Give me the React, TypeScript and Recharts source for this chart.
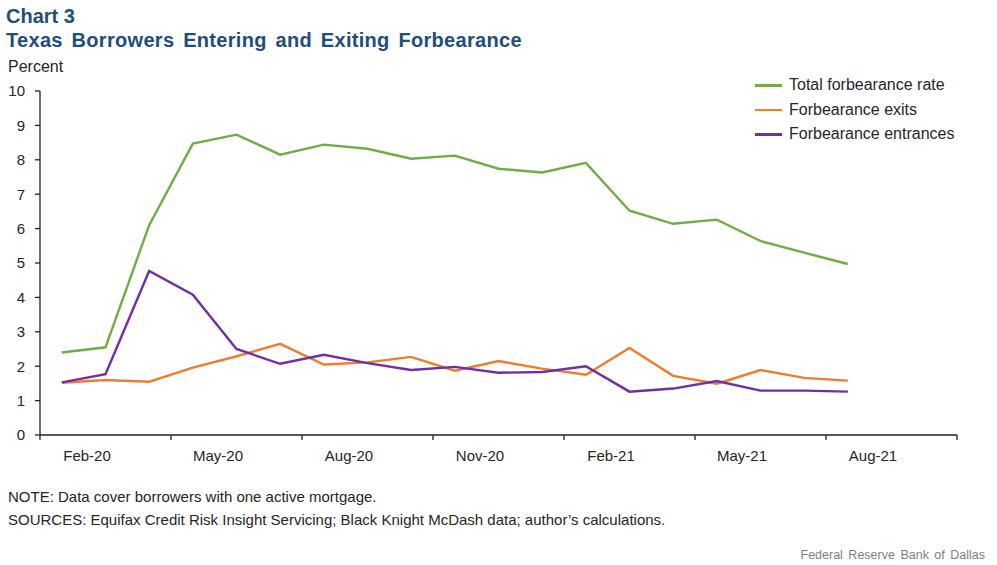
import { Legend, Line, LineChart, XAxis, YAxis } from "recharts";

const months = [
  "Feb-20", "Mar-20", "Apr-20", "May-20", "Jun-20", "Jul-20", "Aug-20", "Sep-20", "Oct-20",
  "Nov-20", "Dec-20", "Jan-21", "Feb-21", "Mar-21", "Apr-21", "May-21", "Jun-21", "Jul-21", "Aug-21",
];
const totalRate = [2.4, 2.55, 6.1, 8.47, 8.73, 8.15, 8.44, 8.32, 8.03, 8.12, 7.74, 7.63, 7.91, 6.52, 6.14, 6.26, 5.64, 5.3, 4.97];
const exits = [1.52, 1.6, 1.55, 1.96, 2.29, 2.65, 2.05, 2.11, 2.27, 1.87, 2.15, 1.93, 1.75, 2.53, 1.72, 1.49, 1.89, 1.66, 1.58];
const entrances = [1.53, 1.77, 4.77, 4.08, 2.5, 2.07, 2.33, 2.09, 1.89, 1.98, 1.81, 1.83, 2.0, 1.26, 1.35, 1.57, 1.29, 1.29, 1.26];

const tickLabels = ["Feb-20", "May-20", "Aug-20", "Nov-20", "Feb-21", "May-21", "Aug-21"];
// boundaries between quarter groups (months are drawn at integer positions)
const xTicks = [-0.5, 2.5, 5.5, 8.5, 11.5, 14.5, 17.5, 20.5];
const yTicks = [0, 1, 2, 3, 4, 5, 6, 7, 8, 9, 10];

const series = [
  { key: "total", name: "Total forbearance rate", color: "#70AD47" },
  { key: "exits", name: "Forbearance exits", color: "#ED7D31" },
  { key: "entrances", name: "Forbearance entrances", color: "#7030A0" },
];

const data = months.map((m, i) => ({
  i,
  month: m,
  total: totalRate[i],
  exits: exits[i],
  entrances: entrances[i],
}));

const FONT = "'Liberation Sans', Arial, sans-serif";
const TEXT = "#262626";

function XTick(props: any) {
  const { x, y, index } = props;
  const label = tickLabels[index];
  if (!label) return null;
  return (
    <text x={x + 47} y={y} dy="0.71em" textAnchor="middle" fontSize={15} fill={TEXT} fontFamily={FONT}>
      {label}
    </text>
  );
}

function LegendBox() {
  return (
    <div style={{ fontFamily: FONT, fontSize: 16, color: TEXT }}>
      {series.map((s) => (
        <div key={s.key} style={{ display: "flex", alignItems: "center", height: 24.5 }}>
          <span style={{ display: "inline-block", width: 27, height: 2.5, background: s.color, marginRight: 7 }} />
          <span style={{ whiteSpace: "nowrap" }}>{s.name}</span>
        </div>
      ))}
    </div>
  );
}

export default function App() {
  return (
    <div
      style={{
        position: "absolute",
        left: 0,
        top: 0,
        width: 997,
        height: 565,
        background: "#fff",
        fontFamily: FONT,
        overflow: "hidden",
      }}
    >
      <div style={{ position: "absolute", left: 6, top: 6, fontSize: 20, lineHeight: 1, fontWeight: 700, color: "#1F4E79" }}>
        Chart 3
      </div>
      <div
        style={{
          position: "absolute",
          left: 6,
          top: 30,
          fontSize: 20,
          lineHeight: 1,
          fontWeight: 700,
          color: "#1F4E79",
          whiteSpace: "nowrap",
          wordSpacing: 3,
          letterSpacing: 0.3,
        }}
      >
        Texas Borrowers Entering and Exiting Forbearance
      </div>
      <div style={{ position: "absolute", left: 8, top: 59, fontSize: 16, lineHeight: 1, color: TEXT }}>Percent</div>

      <LineChart width={997} height={565} data={data} margin={{ top: 91, right: 40, bottom: 100, left: 0 }}>
        <XAxis
          dataKey="i"
          type="number"
          domain={[-0.5, 20.5]}
          ticks={xTicks}
          interval={0}
          height={30}
          tickSize={5}
          tickMargin={10}
          tick={<XTick />}
          axisLine={{ stroke: "#222", strokeWidth: 1.3 }}
          tickLine={{ stroke: "#222", strokeWidth: 1.3 }}
        />
        <YAxis
          type="number"
          domain={[0, 10]}
          ticks={yTicks}
          interval={0}
          width={40}
          tickSize={5}
          tickMargin={10}
          tick={{ fontSize: 15, fill: TEXT, fontFamily: FONT }}
          axisLine={{ stroke: "#222", strokeWidth: 1.3 }}
          tickLine={{ stroke: "#222", strokeWidth: 1.3 }}
        />
        <Legend
          layout="horizontal"
          verticalAlign="middle"
          align="center"
          content={() => <LegendBox />}
          wrapperStyle={{ left: 755, top: 73, width: 220 }}
        />
        {series.map((s) => (
          <Line
            key={s.key}
            type="linear"
            dataKey={s.key}
            name={s.name}
            stroke={s.color}
            strokeWidth={2.4}
            dot={false}
            activeDot={false}
            isAnimationActive={false}
          />
        ))}
      </LineChart>

      <div style={{ position: "absolute", left: 8, top: 489, fontSize: 15, lineHeight: 1, color: TEXT, whiteSpace: "nowrap" }}>
        NOTE: Data cover borrowers with one active mortgage.
      </div>
      <div style={{ position: "absolute", left: 8, top: 512, fontSize: 15, lineHeight: 1, color: TEXT, whiteSpace: "nowrap" }}>
        SOURCES: Equifax Credit Risk Insight Servicing; Black Knight McDash data; author’s calculations.
      </div>
      <div
        style={{
          position: "absolute",
          right: 12,
          top: 549,
          fontSize: 12.5,
          lineHeight: 1,
          color: "#7F7F7F",
          whiteSpace: "nowrap",
          wordSpacing: 2,
        }}
      >
        Federal Reserve Bank of Dallas
      </div>
    </div>
  );
}
